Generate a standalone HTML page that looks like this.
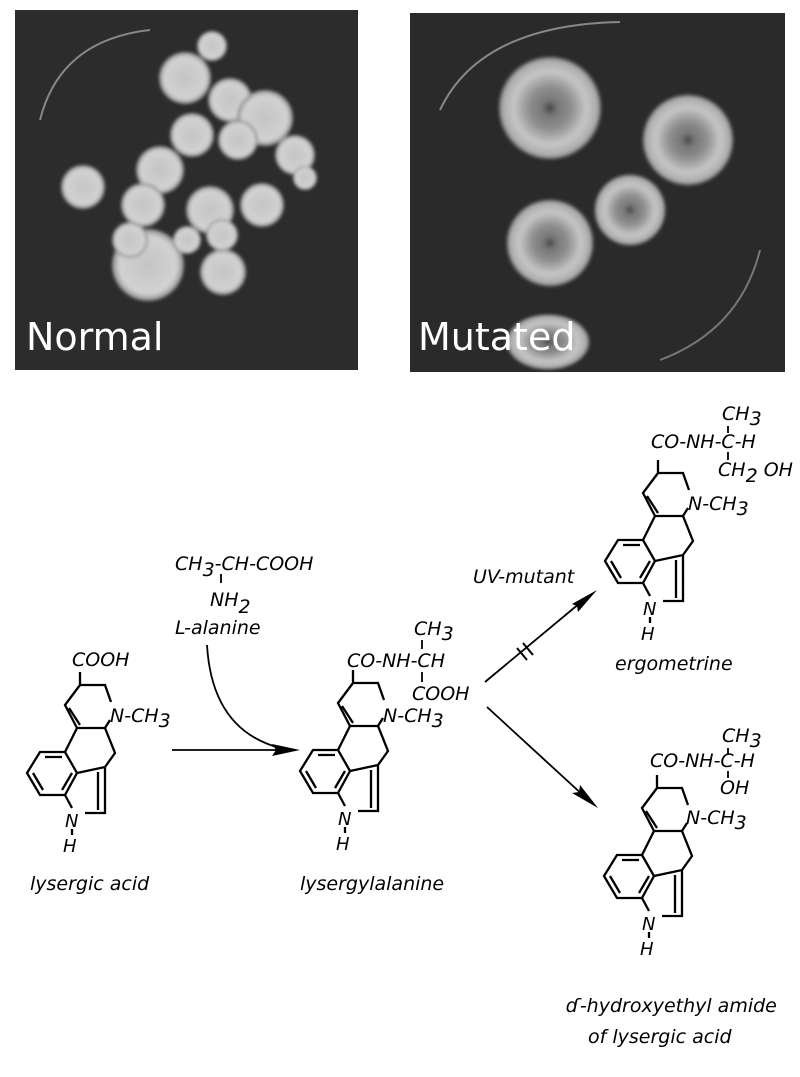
<!DOCTYPE html>
<html><head><meta charset="utf-8"><style>
html,body{margin:0;padding:0;background:#fff;width:800px;height:1077px;overflow:hidden}
</style></head><body>
<svg width="800" height="1077" viewBox="0 0 800 1077" xmlns="http://www.w3.org/2000/svg">
<defs>
<filter id="bl"><feGaussianBlur stdDeviation="1.5"/></filter>
<radialGradient id="col" cx="50%" cy="50%" r="50%"><stop offset="0" stop-color="#c4c4c4"/><stop offset="0.8" stop-color="#d2d2d2"/><stop offset="1" stop-color="#8a8a8a"/></radialGradient>
<radialGradient id="mut" cx="50%" cy="50%" r="50%"><stop offset="0" stop-color="#444"/><stop offset="0.15" stop-color="#777"/><stop offset="0.4" stop-color="#8e8e8e"/><stop offset="0.7" stop-color="#c6c6c6"/><stop offset="0.92" stop-color="#aaa"/><stop offset="1" stop-color="#3a3a3a"/></radialGradient>
<g id="sk" fill="none" stroke="#000" stroke-width="2.3">
<path d="M80,672 L80,685 L105,685 L111,702 M110,720 L105,728 L77,728 L65,705 L80,685 M69,708 L80,725 M105,728 L115,753 L105,767 M77,728 L65,752 L40,752 L27,773 L40,795 L65,795 L77,773 L65,752 M45,757 L62,757 M33,773 L43,790 M72,773 L62,790 M77,773 L105,767 L105,813 L85,813 M98,772 L98,810 M65,795 L72,808"/>
<text x="65" y="827" font-family="DejaVu Sans" font-style="italic" font-size="18" fill="#000" stroke="none">N</text>
<text x="63" y="852" font-family="DejaVu Sans" font-style="italic" font-size="18" fill="#000" stroke="none">H</text>
<path d="M72,829 L72,835"/>
</g>
</defs>
<rect x="15" y="10" width="343" height="360" fill="#2c2c2c"/>
<path d="M40,120 Q60,40 150,30" stroke="#888" stroke-width="2" fill="none"/>
<g filter="url(#bl)">
<circle cx="212" cy="46" r="15" fill="url(#col)"/><circle cx="185" cy="78" r="26" fill="url(#col)"/><circle cx="230" cy="100" r="22" fill="url(#col)"/><circle cx="265" cy="118" r="28" fill="url(#col)"/><circle cx="192" cy="135" r="22" fill="url(#col)"/><circle cx="238" cy="140" r="20" fill="url(#col)"/><circle cx="295" cy="155" r="20" fill="url(#col)"/><circle cx="83" cy="187" r="22" fill="url(#col)"/><circle cx="160" cy="170" r="24" fill="url(#col)"/><circle cx="143" cy="205" r="22" fill="url(#col)"/><circle cx="210" cy="210" r="24" fill="url(#col)"/><circle cx="262" cy="205" r="22" fill="url(#col)"/><circle cx="148" cy="265" r="36" fill="url(#col)"/><circle cx="187" cy="240" r="14" fill="url(#col)"/><circle cx="223" cy="272" r="23" fill="url(#col)"/><circle cx="305" cy="178" r="12" fill="url(#col)"/><circle cx="222" cy="235" r="16" fill="url(#col)"/><circle cx="130" cy="240" r="18" fill="url(#col)"/>
</g>
<text x="26" y="350" font-family="DejaVu Sans" font-size="38" fill="#fff">Normal</text>
<rect x="410" y="13" width="375" height="359" fill="#2a2a2a"/>
<path d="M440,110 Q480,25 620,22" stroke="#888" stroke-width="2" fill="none"/>
<path d="M760,250 Q740,330 660,360" stroke="#777" stroke-width="2" fill="none"/>
<g filter="url(#bl)">
<circle cx="550" cy="108" r="52" fill="url(#mut)"/><circle cx="688" cy="140" r="46" fill="url(#mut)"/><circle cx="630" cy="210" r="36" fill="url(#mut)"/><circle cx="550" cy="243" r="44" fill="url(#mut)"/><ellipse cx="548" cy="342" rx="42" ry="28" fill="url(#mut)"/>
</g>
<text x="418" y="350" font-family="DejaVu Sans" font-size="38" fill="#fff">Mutated</text>
<use href="#sk"/>
<use href="#sk" transform="translate(273,-2)"/>
<use href="#sk" transform="translate(578,-212)"/>
<use href="#sk" transform="translate(577,103)"/>
<g font-family="DejaVu Sans" font-style="italic" font-size="19" fill="#000">
<text x="72" y="666">COOH</text>
<text x="110" y="722">N-CH<tspan dy="5">3</tspan></text>
<text x="30" y="890">lysergic acid</text>
<text x="175" y="570">CH<tspan dy="6">3</tspan><tspan dy="-6">-CH-COOH</tspan></text>
<text x="210" y="606">NH<tspan dy="7">2</tspan></text>
<text x="175" y="634">L-alanine</text>
<text x="414" y="635">CH<tspan dy="5">3</tspan></text>
<text x="347" y="667">CO-NH-CH</text>
<text x="412" y="700">COOH</text>
<text x="383" y="722">N-CH<tspan dy="5">3</tspan></text>
<text x="300" y="890">lysergylalanine</text>
<text x="473" y="583">UV-mutant</text>
<text x="722" y="420">CH<tspan dy="5">3</tspan></text>
<text x="651" y="448">CO-NH-C-H</text>
<text x="718" y="476">CH<tspan dy="6">2</tspan><tspan dy="-6"> OH</tspan></text>
<text x="688" y="510">N-CH<tspan dy="5">3</tspan></text>
<text x="615" y="670">ergometrine</text>
<text x="722" y="742">CH<tspan dy="5">3</tspan></text>
<text x="650" y="767">CO-NH-C-H</text>
<text x="720" y="794">OH</text>
<text x="686" y="824">N-CH<tspan dy="5">3</tspan></text>
<text x="566" y="1012">ɗ-hydroxyethyl amide</text>
<text x="588" y="1043">of lysergic acid</text>
</g>
<g stroke="#000" stroke-width="1.8" fill="none">
<path d="M221,574 L221,583 M422,640 L422,649 M422,672 L422,682 M728,426 L728,433 M728,452 L728,460 M728,748 L728,755 M728,771 L728,778"/>
<path d="M172,750 L280,750"/>
<path d="M207,645 Q212,730 280,748"/>
<path d="M485,682 L580,603"/>
<path d="M517,648 L527,660 M523,643 L533,655" stroke-width="2"/>
<path d="M487,707 L585,797"/>
</g>
<g fill="#000">
<path d="M300,750 L272,744 L276,750 L272,756Z"/>
<path d="M597,590 L572,604 L577,606 L578,612Z"/>
<path d="M598,808 L580,785 L579,792 L572,793Z"/>
</g>
</svg>
</body></html>
